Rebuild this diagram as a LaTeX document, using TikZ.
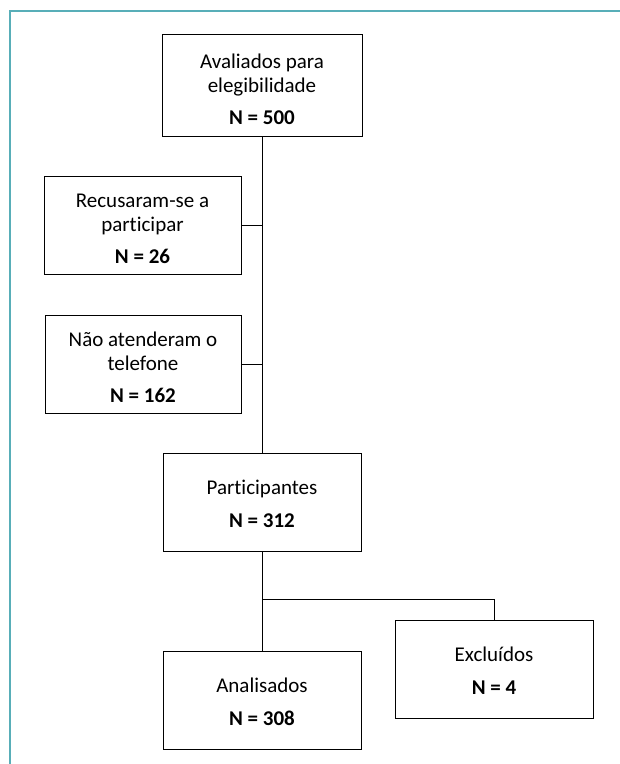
\documentclass[tikz,border=0pt]{standalone}
\usepackage{fontspec}
\setmainfont{Carlito}[Ligatures=NoCommon]
\definecolor{frameteal}{RGB}{88,174,184}
\newcommand{\toppad}[1]{\rule{0pt}{#1pt}}
\begin{document}
\begin{tikzpicture}[x=1pt,y=-1pt,
  boxnode/.style={draw=black, line width=1pt, align=center, inner sep=0pt,
    font=\fontsize{21}{23.5}\selectfont, minimum height=98pt},
  conn/.style={line width=1pt, draw=black}]
\useasboundingbox (0,0) rectangle (620,764);
\draw[frameteal, line width=2pt] (10,764) -- (10,11) -- (620,11);
\node[boxnode, minimum width=200pt, minimum height=102pt] (aval) at (262,85)
  {\toppad{24}Avaliados para\\elegibilidade\\[9pt]\textbf{N = 500}};
\node[boxnode, minimum width=197pt] (recus) at (142.5,225)
  {\toppad{22}Recusaram-se a\\participar\\[9pt]\textbf{N = 26}};
\node[boxnode, minimum width=196pt] (nao) at (143,364)
  {\toppad{22}Não atenderam o\\telefone\\[9pt]\textbf{N = 162}};
\node[boxnode, minimum width=198pt] (part) at (262,502)
  {\toppad{18}Participantes\\[9pt]\textbf{N = 312}};
\node[boxnode, minimum width=198pt] (excl) at (494,669)
  {\toppad{18}Excluídos\\[9pt]\textbf{N = 4}};
\node[boxnode, minimum width=198pt] (anal) at (262,700)
  {\toppad{18}Analisados\\[9pt]\textbf{N = 308}};
\coordinate (br) at (262,599);
\draw[conn] (aval.south) -- (part.north);
\draw[conn] (recus.east) -- (recus.east -| aval.south);
\draw[conn] (nao.east) -- (nao.east -| aval.south);
\draw[conn] (part.south) -- (anal.north);
\draw[conn] (br) -| (excl.north);
\end{tikzpicture}
\end{document}
